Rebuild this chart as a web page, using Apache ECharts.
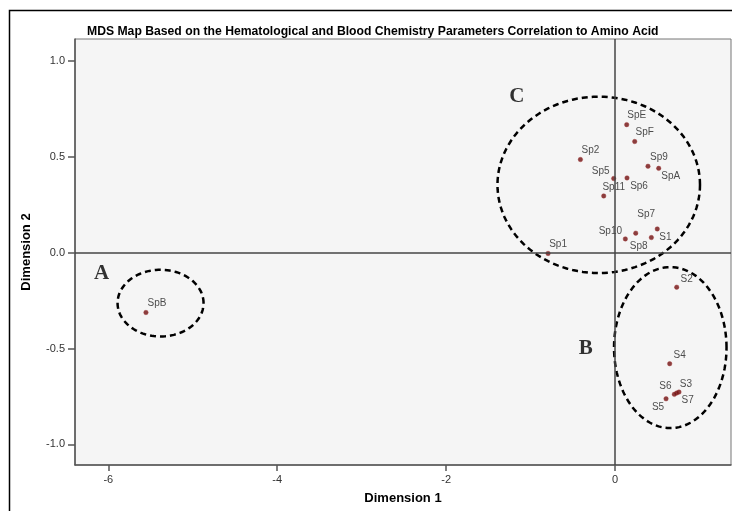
<!DOCTYPE html>
<html>
<head>
<meta charset="utf-8">
<script src="https://cdn.jsdelivr.net/npm/echarts@6/dist/echarts.min.js"></script>
<style>html,body{margin:0;padding:0;background:#fff;}#c{width:732px;height:511px;}</style>
</head>
<body>
<div id="c"></div>
<script>
// ---- data ----
const titleText = 'MDS Map Based on the Hematological and Blood Chemistry Parameters Correlation to Amino Acid';
const xTicks = [-6, -4, -2, 0];
const yTicks = [-1.0, -0.5, 0.0, 0.5, 1.0];
const pointNames = ['SpB','Sp1','Sp2','SpE','SpF','Sp9','SpA','Sp5','Sp6','Sp11','Sp7','Sp8','S1','Sp10','S2','S4','S3','S7','S6','S5'];
const dim1 = [-5.554,-0.793,-0.410,0.138,0.233,0.390,0.517,-0.016,0.142,-0.134,0.500,0.245,0.430,0.122,0.730,0.647,0.757,0.730,0.702,0.604];
const dim2 = [-0.312,-0.004,0.486,0.668,0.580,0.451,0.440,0.387,0.390,0.296,0.124,0.102,0.079,0.072,-0.180,-0.579,-0.727,-0.732,-0.739,-0.762];
const groupLetters = ['A','B','C'];
const letterX = [-6.079,-0.347,-1.163];
const letterY = [-0.107,-0.501,0.814];
const ellipseCx = [-5.381,0.654,-0.193];
const ellipseCy = [-0.263,-0.495,0.354];
const ellipseRx = [0.509,0.666,1.199];
const ellipseRy = [0.174,0.420,0.460];

// ---- label placement (style) ----
const labelOffsets = {
  SpB:[11,-9], Sp1:[10,-9], Sp2:[10,-9], SpE:[10,-9], SpF:[10,-9], Sp9:[11,-9], SpA:[12,8],
  Sp5:[-13,-7], Sp6:[12,8], Sp11:[10,-9], Sp7:[-11,-15], Sp8:[3,13], S1:[14,0], Sp10:[-15,-8],
  S2:[10,-8], S4:[10,-8], S3:[7,-8], S7:[11,7], S6:[-9,-8], S5:[-8,8]
};

const pts = pointNames.map((n, i) => ({
  name: n, value: [dim1[i], dim2[i]],
  label: { offset: labelOffsets[n] }
}));
const letters = groupLetters.map((l, i) => ({ name: l, value: [letterX[i], letterY[i]] }));
const ellipses = ellipseCx.map((c, i) => [c, ellipseCy[i], ellipseRx[i], ellipseRy[i]]);

const chart = echarts.init(document.getElementById('c'), null, { renderer: 'canvas' });
const axisFont = { color: '#333', fontSize: 11, fontFamily: 'Liberation Sans, Arial, sans-serif' };

chart.setOption({
  animation: false,
  backgroundColor: '#fff',
  title: {
    text: titleText, left: 82, top: 21,
    textStyle: { fontSize: 12.2, fontWeight: 'bold', color: '#000', fontFamily: 'Liberation Sans, Arial, sans-serif' }
  },
  graphic: [{
    type: 'rect', left: 7, top: 8, silent: true,
    shape: { width: 800, height: 600 },
    style: { fill: 'none', stroke: '#000', lineWidth: 1.5 }
  }],
  grid: {
    left: 75, top: 39, right: 1, bottom: 46,
    show: true, backgroundColor: '#f5f5f5', borderColor: '#777', borderWidth: 1
  },
  xAxis: {
    type: 'value', min: -6.394, max: 1.373,
    name: 'Dimension 1', nameLocation: 'middle', nameGap: 27,
    nameTextStyle: { fontSize: 13, fontWeight: 'bold', color: '#000', fontFamily: 'Liberation Sans, Arial, sans-serif' },
    axisLine: { show: true, onZero: false, lineStyle: { color: '#555', width: 1.5 } },
    axisTick: { show: true, length: 6, customValues: xTicks, lineStyle: { color: '#555', width: 1.5 } },
    axisLabel: Object.assign({ customValues: xTicks, margin: 9, formatter: v => String(Math.round(v)) }, axisFont),
    splitLine: { show: false }
  },
  yAxis: {
    type: 'value', min: -1.1074, max: 1.1147,
    name: 'Dimension 2', nameLocation: 'middle', nameGap: 42,
    nameTextStyle: { fontSize: 13, fontWeight: 'bold', color: '#000', fontFamily: 'Liberation Sans, Arial, sans-serif' },
    axisLine: { show: true, onZero: false, lineStyle: { color: '#555', width: 1.5 } },
    axisTick: { show: true, length: 7, customValues: yTicks, lineStyle: { color: '#555', width: 1.5 } },
    axisLabel: Object.assign({ customValues: yTicks, margin: 10, formatter: v => v.toFixed(1) }, axisFont),
    splitLine: { show: false }
  },
  series: [
    {
      type: 'custom', z: 3, silent: true,
      data: ellipses,
      encode: { x: 0, y: 1 },
      renderItem: function (params, api) {
        const cx = api.value(0), cy = api.value(1), rx = api.value(2), ry = api.value(3);
        const p = [];
        for (let k = 0; k <= 120; k++) {
          const t = 2 * Math.PI * k / 120;
          p.push(api.coord([cx + rx * Math.cos(t), cy + ry * Math.sin(t)]));
        }
        return { type: 'polyline', shape: { points: p },
          style: { fill: null, stroke: '#000', lineWidth: 2.5, lineDash: [6, 4] } };
      }
    },
    {
      type: 'scatter', z: 4, silent: true,
      symbolSize: 4.5,
      itemStyle: { color: '#701010', borderColor: '#a03535', borderWidth: 0.5 },
      label: {
        show: true, position: 'inside', formatter: '{b}',
        color: '#222', fontSize: 10, fontFamily: 'Liberation Sans, Arial, sans-serif'
      },
      data: pts,
      markLine: {
        silent: true, symbol: 'none', animation: false,
        label: { show: false },
        lineStyle: { color: '#444', width: 1.5, type: 'solid' },
        data: [{ xAxis: 0 }, { yAxis: 0 }]
      }
    },
    {
      type: 'scatter', z: 5, silent: true,
      symbolSize: 0,
      label: {
        show: true, position: 'inside', formatter: '{b}',
        color: '#000', fontSize: 21, fontWeight: 'bold', fontFamily: 'Liberation Serif, Times New Roman, serif'
      },
      data: letters
    }
  ]
});
</script>
</body>
</html>
